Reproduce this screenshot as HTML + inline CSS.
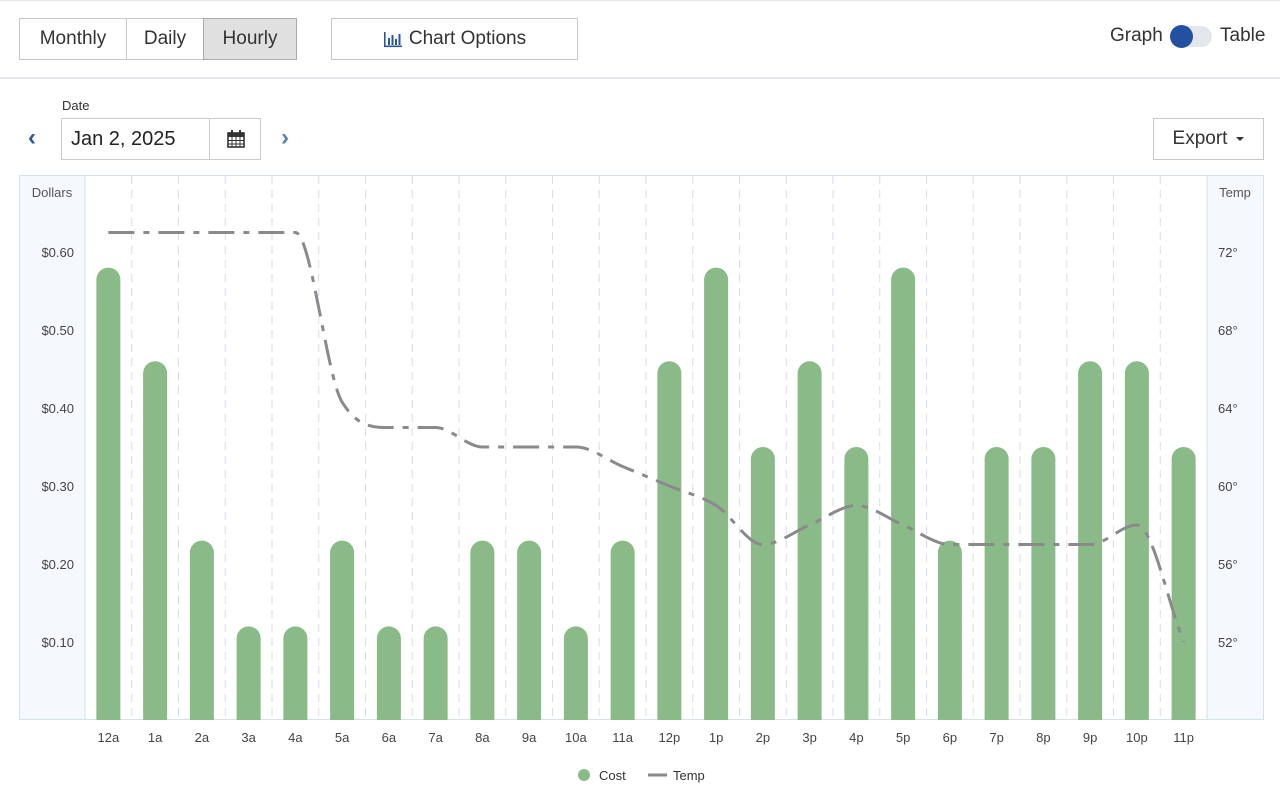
<!DOCTYPE html>
<html><head><meta charset="utf-8">
<style>
*{box-sizing:border-box;margin:0;padding:0}
body{width:1280px;height:804px;background:#fff;font-family:"Liberation Sans",sans-serif;color:#333;position:relative;overflow:hidden}
.abs{position:absolute}
.btn{position:absolute;top:18px;height:42px;border:1px solid #c8c8c8;background:#fff;font-size:19px;color:#333;display:flex;align-items:center;justify-content:center}
</style></head>
<body>
<div class="abs" style="left:0;top:0;width:1280px;height:1px;background:#e5e8ec"></div>
<div class="btn" style="left:19px;width:108px">Monthly</div>
<div class="btn" style="left:126px;width:78px">Daily</div>
<div class="btn" style="left:203px;width:94px;background:#e0e0e0;border-color:#aaa">Hourly</div>
<div class="btn" style="left:331px;width:247px">
<svg width="20" height="18" viewBox="0 0 20 18" style="margin-right:6px"><g fill="#2b579a"><rect x="1" y="2" width="1.6" height="15"/><rect x="1" y="15.5" width="18" height="1.6"/><rect x="5" y="8" width="2" height="7"/><rect x="8.5" y="5" width="2" height="10"/><rect x="12" y="9" width="2" height="6"/><rect x="15.5" y="4" width="2" height="11"/></g></svg>Chart Options</div>
<div class="abs" style="left:1110px;top:25px;font-size:19px">Graph</div>
<div class="abs" style="left:1170px;top:26px;width:42px;height:21px;border-radius:11px;background:#e3e7ec"><div style="position:absolute;left:0;top:-1px;width:23px;height:23px;border-radius:50%;background:#2450a0"></div></div>
<div class="abs" style="left:1220px;top:25px;font-size:19px">Table</div>
<div class="abs" style="left:0;top:77px;width:1280px;height:2px;background:#e3e6ea"></div>
<div class="abs" style="left:62px;top:98px;font-size:13px">Date</div>
<div class="abs" style="left:28px;top:124px;font-size:24px;color:#2b579a;font-weight:bold">‹</div>
<div class="abs" style="left:61px;top:118px;width:149px;height:42px;border:1px solid #ccc;font-size:20px;padding:9px 0 0 9px;color:#222">Jan 2, 2025</div>
<div class="abs" style="left:209px;top:118px;width:52px;height:42px;border:1px solid #ccc">
<svg width="18" height="18" viewBox="0 0 18 18" style="position:absolute;left:17px;top:11px"><rect x="1" y="3" width="16" height="14" fill="none" stroke="#333" stroke-width="1.6"/><rect x="1" y="3" width="16" height="4" fill="#333"/><rect x="4" y="0" width="2" height="5" fill="#333"/><rect x="12" y="0" width="2" height="5" fill="#333"/><g stroke="#333" stroke-width="1"><line x1="5" y1="7" x2="5" y2="17"/><line x1="9" y1="7" x2="9" y2="17"/><line x1="13" y1="7" x2="13" y2="17"/><line x1="1" y1="10.5" x2="17" y2="10.5"/><line x1="1" y1="14" x2="17" y2="14"/></g></svg></div>
<div class="abs" style="left:281px;top:124px;font-size:24px;color:#5a7fb5;font-weight:bold">›</div>
<div class="btn" style="left:1153px;top:118px;width:111px;height:42px">Export<span style="display:inline-block;margin-left:9px;border-left:4px solid transparent;border-right:4px solid transparent;border-top:4px solid #333"></span></div>

<svg id="chart" class="abs" style="left:0;top:0" width="1280" height="804"></svg>
<script>
const categories=["12a","1a","2a","3a","4a","5a","6a","7a","8a","9a","10a","11a","12p","1p","2p","3p","4p","5p","6p","7p","8p","9p","10p","11p"];
const costValues=[0.58,0.46,0.23,0.12,0.12,0.23,0.12,0.12,0.23,0.23,0.12,0.23,0.46,0.58,0.35,0.46,0.35,0.58,0.23,0.35,0.35,0.46,0.46,0.35];
const tempValues=[73,73,73,73,73,64.3,63,63,62,62,62,61,60,59,57,58,59,58,57,57,57,57,58,52];
const dollarTicks=[0.1,0.2,0.3,0.4,0.5,0.6];
const dollarTickLabels=["$0.10","$0.20","$0.30","$0.40","$0.50","$0.60"];
const tempTicks=[52,56,60,64,68,72];
const tempTickLabels=["52°","56°","60°","64°","68°","72°"];

const NS="http://www.w3.org/2000/svg";
const svg=document.getElementById('chart');
const PL=85,PR=1207,PT=175,PB=720;
const step=(PR-PL)/categories.length;
const xC=i=>PL+step*(i+0.5);
const yD=v=>PB-v*780;
const yT=t=>PB-(t-48)*19.5;
function mk(tag,attrs,parent){const e=document.createElementNS(NS,tag);for(const k in attrs)e.setAttribute(k,attrs[k]);(parent||svg).appendChild(e);return e;}

let e=mk('rect',{x:19,y:175,width:66,height:545,fill:'#f5f8fc'});


e=mk('rect',{x:1207,y:175,width:57,height:545,fill:'#f5f8fc'});


mk('rect',{x:19.5,y:175.5,width:1244,height:544,fill:'none',stroke:'#d4e2ee'});
mk('line',{x1:85,y1:175,x2:85,y2:720,stroke:'#d4e2ee'});
mk('line',{x1:1207,y1:175,x2:1207,y2:720,stroke:'#d4e2ee'});
for(let i=1;i<categories.length;i++){
  e=mk('line',{x1:PL+step*i,y1:176,x2:PL+step*i,y2:720,stroke:'#d6deea','stroke-dasharray':'8 6'});
  
  
}
e=mk('text',{x:52,y:197,'text-anchor':'middle','font-size':13,fill:'#555'});e.textContent='Dollars';


e=mk('text',{x:1235,y:197,'text-anchor':'middle','font-size':13,fill:'#555'});e.textContent='Temp';


dollarTicks.forEach((v,i)=>{const t=mk('text',{x:74,y:yD(v)+5,'text-anchor':'end','font-size':13,fill:'#444'});t.textContent=dollarTickLabels[i];

});
tempTicks.forEach((v,i)=>{const t=mk('text',{x:1218,y:yT(v)+5,'font-size':13,fill:'#444'});t.textContent=tempTickLabels[i];

});
const bw=24;
costValues.forEach((v,i)=>{
  const top=yD(v),x=xC(i)-bw/2,r=bw/2;
  const b=mk('path',{d:`M${x},${PB} L${x},${top+r} A${r},${r} 0 0 1 ${x+bw},${top+r} L${x+bw},${PB} Z`,fill:'#8aba87'});
  
  
});
categories.forEach((c,i)=>{const t=mk('text',{x:xC(i),y:742,'text-anchor':'middle','font-size':13,fill:'#444'});t.textContent=c;

});
// monotone cubic
const P=tempValues.map((t,i)=>[xC(i),yT(t)]);
const n=P.length,d=[],m=[];
for(let i=0;i<n-1;i++)d.push((P[i+1][1]-P[i][1])/(P[i+1][0]-P[i][0]));
for(let i=0;i<n;i++){if(i==0)m.push(d[0]);else if(i==n-1)m.push(d[n-2]);else m.push(d[i-1]*d[i]<=0?0:(d[i-1]+d[i])/2);}
for(let i=0;i<n-1;i++){if(d[i]==0){m[i]=0;m[i+1]=0;continue;}const a=m[i]/d[i],b=m[i+1]/d[i],s=a*a+b*b;if(s>9){const tt=3/Math.sqrt(s);m[i]=tt*a*d[i];m[i+1]=tt*b*d[i];}}
let dp=`M${P[0][0]},${P[0][1]}`;
for(let i=0;i<n-1;i++){const h=(P[i+1][0]-P[i][0])/3;dp+=` C${P[i][0]+h},${P[i][1]+m[i]*h} ${P[i+1][0]-h},${P[i+1][1]-m[i+1]*h} ${P[i+1][0]},${P[i+1][1]}`;}
e=mk('path',{d:dp,fill:'none',stroke:'#8a8a8c','stroke-width':3,'stroke-dasharray':'26 9 6 9'});


// legend
e=mk('circle',{cx:584,cy:775,r:6,fill:'#8aba87'});


e=mk('text',{x:599,y:780,'font-size':13,fill:'#333'});e.textContent='Cost';


e=mk('line',{x1:648,y1:775,x2:667,y2:775,stroke:'#8a8a8c','stroke-width':3});


e=mk('text',{x:673,y:780,'font-size':13,fill:'#333'});e.textContent='Temp';


</script>
</body></html>
